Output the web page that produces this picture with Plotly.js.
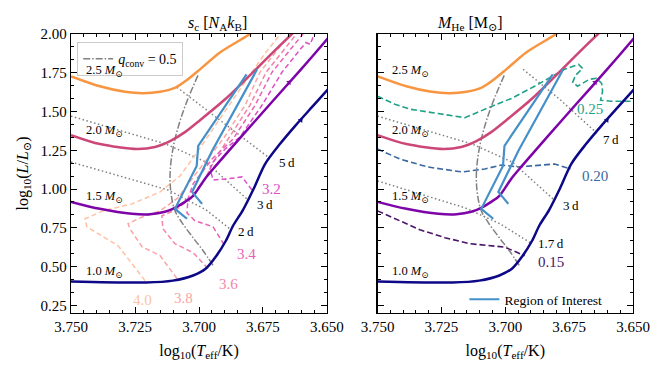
<!DOCTYPE html>
<html>
<head>
<meta charset="utf-8">
<script src="https://cdn.plot.ly/plotly-3.0.1.min.js"></script>
<style>
  body { margin: 0; background: #fff; }
  #hrd { width: 664px; height: 370px; }
</style>
</head>
<body>
<div id="hrd"></div>
<script>
// evolutionary tracks, log10 Teff vs log10 L
var m25_teff = [3.750, 3.7387, 3.7289, 3.7219, 3.7152, 3.7090, 3.7043, 3.6996, 3.6918, 3.6801, 3.6754];
var m25_lum  = [1.727, 1.663, 1.627, 1.618, 1.627, 1.656, 1.708, 1.772, 1.881, 2.000, 2.061];
var m20_teff = [3.750, 3.7387, 3.7242, 3.7172, 3.7113, 3.7055, 3.6996, 3.6898, 3.6813, 3.6723, 3.6637, 3.6598];
var m20_lum  = [1.348, 1.290, 1.258, 1.271, 1.309, 1.367, 1.444, 1.579, 1.714, 1.862, 2.000, 2.061];
var m15_teff = [3.750, 3.7387, 3.7262, 3.7191, 3.7133, 3.7094, 3.7055, 3.7023, 3.6977, 3.6945, 3.6840, 3.6723, 3.6605, 3.6500, 3.6469];
var m15_lum  = [0.917, 0.872, 0.840, 0.837, 0.853, 0.879, 0.917, 0.956, 1.065, 1.129, 1.328, 1.547, 1.765, 1.965, 2.022];
var m10_teff = [3.750, 3.7207, 3.7102, 3.7023, 3.6973, 3.6934, 3.6895, 3.6867, 3.6828, 3.6785, 3.6742, 3.6684, 3.6625, 3.6559, 3.6496, 3.6449];
var m10_lum  = [0.403, 0.397, 0.409, 0.442, 0.487, 0.564, 0.666, 0.763, 0.866, 1.007, 1.161, 1.290, 1.406, 1.528, 1.643, 1.727];
var track_names = ['2.5', '2.0', '1.5', '1.0'];
var track_label_lum = [1.761, 1.375, 0.947, 0.465];
var track_label_teff = 3.7371;

// direction arrows on the 1.5 and 1.0 tracks
var arrow_teff = [3.6648, 3.6602];
var arrow_lum  = [1.688, 1.444];

// q_conv = 0.5
var qconv_teff = [3.7004, 3.7047, 3.7078, 3.7102, 3.7113, 3.7109, 3.7094, 3.7066, 3.7020, 3.6984, 3.6945];
var qconv_lum  = [1.733, 1.566, 1.418, 1.258, 1.097, 0.969, 0.860, 0.782, 0.679, 0.602, 0.506];

// region of interest (two edges)
var roi_teff = [3.7047, 3.7094, 3.7009, 3.7003, 3.6814, null, 3.6773, 3.6949, 3.7027, 3.6988];
var roi_lum  = [0.808, 0.872, 1.148, 1.279, 1.740, null, 1.772, 1.245, 0.981, 0.904];

// orbital period lines
var p5_teff  = [3.7086, 3.6906, 3.6730];
var p5_lum   = [1.656, 1.431, 1.206];
var p3_teff  = [3.750, 3.7129, 3.6973, 3.6813];
var p3_lum   = [1.470, 1.290, 1.174, 0.936];
var p2_teff  = [3.750, 3.7121, 3.6973, 3.6875];
var p2_lum   = [1.174, 0.994, 0.866, 0.737];
var p7_teff  = [3.6930, 3.6787, 3.6637];
var p7_lum   = [1.772, 1.579, 1.354];
var p17_teff = [3.750, 3.7158, 3.7021, 3.6896];
var p17_lum  = [1.052, 0.879, 0.776, 0.647];

// central entropy contours (left panel)
var sc40_teff = [3.7211, 3.7316, 3.7438, 3.7445, 3.7375, 3.7262, 3.7152, 3.7074, 3.7012, 3.6941, 3.6840, 3.6742, 3.6680, 3.6652];
var sc40_lum  = [0.409, 0.634, 0.756, 0.808, 0.859, 0.904, 0.981, 1.084, 1.226, 1.399, 1.643, 1.875, 2.000, 2.061];
var sc38_teff = [3.7086, 3.7152, 3.7223, 3.7270, 3.7277, 3.7230, 3.7152, 3.7082, 3.7016, 3.6957, 3.6906, 3.6820, 3.6762, 3.6645, 3.6617];
var sc38_lum  = [0.422, 0.570, 0.628, 0.744, 0.776, 0.814, 0.859, 0.943, 1.091, 1.213, 1.322, 1.540, 1.753, 2.000, 2.061];
var sc36_teff = [3.6965, 3.7023, 3.7094, 3.7141, 3.7145, 3.7090, 3.7035, 3.6977, 3.6937, 3.6887, 3.6801, 3.6738, 3.6617, 3.6590];
var sc36_lum  = [0.487, 0.589, 0.647, 0.744, 0.827, 0.866, 0.936, 1.065, 1.193, 1.322, 1.540, 1.753, 2.000, 2.061];
var sc34_teff = [3.6902, 3.6945, 3.7016, 3.7047, 3.7043, 3.7023, 3.6949, 3.6867, 3.6781, 3.6715, 3.6594, 3.6566];
var sc34_lum  = [0.641, 0.756, 0.795, 0.846, 0.936, 1.033, 1.193, 1.322, 1.540, 1.753, 2.000, 2.061];
var sc32_teff = [3.6793, 3.6832, 3.6891, 3.6945, 3.6957, 3.6945, 3.6898, 3.6840, 3.6754, 3.6676, 3.6605, 3.6582, 3.6566, 3.6551, 3.6539];
var sc32_lum  = [0.994, 1.078, 1.065, 1.058, 1.129, 1.174, 1.258, 1.335, 1.540, 1.753, 1.900, 1.945, 1.933, 1.997, 2.040];
var sc_labels = ['4.0', '3.8', '3.6', '3.4', '3.2'];
var sc_label_teff = [3.7219, 3.7059, 3.6883, 3.6813, 3.6715];
var sc_label_lum  = [0.284, 0.298, 0.390, 0.583, 1.000];

// helium core mass contours (right panel)
var he25_teff = [3.750, 3.7432, 3.7373, 3.7256, 3.7158, 3.7061, 3.6975, 3.6885, 3.6818, 3.6768, 3.6713, 3.6697, 3.6725, 3.6736, 3.6717, 3.6670, 3.6643, 3.6623, 3.6619, 3.6627, 3.6584, 3.6502, 3.6475];
var he25_lum  = [1.598, 1.547, 1.515, 1.483, 1.460, 1.528, 1.585, 1.663, 1.727, 1.772, 1.804, 1.778, 1.733, 1.688, 1.663, 1.708, 1.714, 1.682, 1.630, 1.573, 1.566, 1.566, 1.566];
var he20_teff = [3.750, 3.7412, 3.7303, 3.7170, 3.7080, 3.7014, 3.6951, 3.6865, 3.6807, 3.6744];
var he20_lum  = [1.258, 1.193, 1.142, 1.110, 1.129, 1.155, 1.142, 1.155, 1.161, 1.129];
var he15_teff = [3.750, 3.7412, 3.7334, 3.7236, 3.7139, 3.7002, 3.6924];
var he15_lum  = [0.859, 0.795, 0.737, 0.686, 0.647, 0.625, 0.570];
var he_labels = ['0.25', '0.20', '0.15'];
var he_label_teff = [3.6670, 3.6650, 3.6820];
var he_label_lum  = [1.515, 1.086, 0.530];

var left_periods = ['5\u2009d', '3\u2009d', '2\u2009d'];
var left_period_teff = [3.6695, 3.6781, 3.6855];
var left_period_lum  = [1.174, 0.898, 0.726];
var right_periods = ['7\u2009d', '3\u2009d', '1.7\u2009d'];
var right_period_teff = [3.6627, 3.6783, 3.6881];
var right_period_lum  = [1.322, 0.893, 0.647];

var plasma = ['#f89540', '#cc4778', '#7e03a8', '#0d0887'];
var sc_colors = ['#fdc2a4', '#fba5a5', '#f583a7', '#ea62b6', '#dc4fc6'];
var he_colors = ['#1fa187', '#3a67a0', '#4a1468'];
var roi_color = '#4590c8';
var grey = '#808080';
var FONT = 'Liberation Serif, DejaVu Serif, serif';

function line(x, y, xa, color, width, dash, extra) {
  var t = {
    x: x, y: y, xaxis: xa, yaxis: xa == 'x' ? 'y' : 'y2',
    mode: 'lines', type: 'scatter', hoverinfo: 'skip', showlegend: false,
    line: {color: color, width: width, dash: dash || 'solid'}
  };
  for (var k in extra) t[k] = extra[k];
  return t;
}

var data = [];
var ann = [];

['x', 'x2'].forEach(function (xa) {
  var ya = xa == 'x' ? 'y' : 'y2';
  if (xa == 'x') {
    data.push(line(p5_teff, p5_lum, xa, grey, 1.5, '1.5px,2.5px'));
    data.push(line(p3_teff, p3_lum, xa, grey, 1.5, '1.5px,2.5px'));
    data.push(line(p2_teff, p2_lum, xa, grey, 1.5, '1.5px,2.5px'));
    var sc = [[sc40_teff, sc40_lum], [sc38_teff, sc38_lum], [sc36_teff, sc36_lum], [sc34_teff, sc34_lum], [sc32_teff, sc32_lum]];
    sc.forEach(function (c, i) { data.push(line(c[0], c[1], xa, sc_colors[i], 1.5, '5px,3px')); });
  } else {
    data.push(line(p7_teff, p7_lum, xa, grey, 1.5, '1.5px,2.5px'));
    data.push(line(p3_teff, p3_lum, xa, grey, 1.5, '1.5px,2.5px'));
    data.push(line(p17_teff, p17_lum, xa, grey, 1.5, '1.5px,2.5px'));
    var he = [[he25_teff, he25_lum], [he20_teff, he20_lum], [he15_teff, he15_lum]];
    he.forEach(function (c, i) { data.push(line(c[0], c[1], xa, he_colors[i], 1.6, '6px,3px')); });
  }

  var q = line(qconv_teff, qconv_lum, xa, grey, 1.5, '7px,2px,1.5px,2px',
    {name: '<i>q</i><sub>conv</sub> = 0.5', showlegend: xa == 'x', legend: 'legend'});
  q.line.shape = 'spline';
  data.push(q);

  // tracks smoothed a bit, they are smooth curves in the original
  var tr = [[m25_teff, m25_lum], [m20_teff, m20_lum], [m15_teff, m15_lum], [m10_teff, m10_lum]];
  tr.forEach(function (c, i) {
    var t = line(c[0], c[1], xa, plasma[i], 2.5);
    t.line.shape = 'spline';
    t.line.smoothing = 0.8;
    data.push(t);
  });

  data.push({
    x: arrow_teff, y: arrow_lum, xaxis: xa, yaxis: ya, type: 'scatter', mode: 'markers',
    hoverinfo: 'skip', showlegend: false,
    marker: {symbol: 'triangle-up', size: 5, angle: 42, color: [plasma[2], plasma[3]]}
  });

  data.push(line(roi_teff, roi_lum, xa, roi_color, 2.2, 'solid',
    {name: 'Region of Interest', showlegend: xa == 'x2', legend: 'legend2'}));

  track_names.forEach(function (n, i) {
    ann.push({x: track_label_teff, y: track_label_lum[i], xref: xa, yref: ya, showarrow: false,
      text: n + ' <i>M</i><sub>⊙</sub>', font: {size: 12.5, color: '#000'}});
  });
});

left_periods.forEach(function (t, i) {
  ann.push({x: left_period_teff[i], y: left_period_lum[i], xref: 'x', yref: 'y', showarrow: false,
    xanchor: 'left', text: t, font: {size: 13, color: '#000'}});
});
right_periods.forEach(function (t, i) {
  ann.push({x: right_period_teff[i], y: right_period_lum[i], xref: 'x2', yref: 'y2', showarrow: false,
    xanchor: 'left', text: t, font: {size: 13, color: '#000'}});
});
sc_labels.forEach(function (t, i) {
  ann.push({x: sc_label_teff[i], y: sc_label_lum[i], xref: 'x', yref: 'y', showarrow: false,
    text: t, font: {size: 15, color: sc_colors[i]}});
});
he_labels.forEach(function (t, i) {
  ann.push({x: he_label_teff[i], y: he_label_lum[i], xref: 'x2', yref: 'y2', showarrow: false,
    text: t, font: {size: 15, color: he_colors[i]}});
});

ann.push({x: 0.2046, y: 1.079, xref: 'paper', yref: 'paper', showarrow: false,
  text: '<i>s</i><sub>c</sub> [<i>N</i><sub>A</sub><i>k</i><sub>B</sub>]', font: {size: 16}});
ann.push({x: 0.773, y: 1.079, xref: 'paper', yref: 'paper', showarrow: false,
  text: '<i>M</i><sub>He</sub> [M<sub>⊙</sub>]', font: {size: 16}});

function xaxis(domain) {
  return {
    domain: domain, range: [3.75, 3.65], tick0: 3.75, dtick: 0.025, tickformat: '.3f',
    ticks: 'inside', ticklen: 6, tickwidth: 1, tickcolor: '#000', mirror: 'allticks',
    showline: true, linecolor: '#000', linewidth: 1.3, showgrid: false, zeroline: false,
    minor: {dtick: 0.005, ticks: 'inside', ticklen: 3, tickcolor: '#000', showgrid: false},
    tickfont: {size: 15},
    title: {text: 'log<sub>10</sub>(<i>T</i><sub>eff</sub>/K)', font: {size: 16}, standoff: 10}
  };
}
function yaxis(anchor, labels) {
  return {
    anchor: anchor, range: [0.2, 2.0], tick0: 0.25, dtick: 0.25, tickformat: '.2f',
    showticklabels: labels,
    ticks: 'inside', ticklen: 6, tickwidth: 1, tickcolor: '#000', mirror: 'allticks',
    showline: true, linecolor: '#000', linewidth: 1.3, showgrid: false, zeroline: false,
    minor: {tick0: 0, dtick: 0.25 / 3, ticks: 'inside', ticklen: 3, tickcolor: '#000', showgrid: false},
    tickfont: {size: 15},
    title: labels ? {text: 'log<sub>10</sub>(<i>L</i>/<i>L</i><sub>⊙</sub>)', font: {size: 16}, standoff: 8} : {text: ''}
  };
}

var layout = {
  width: 664, height: 370,
  margin: {l: 71, r: 31, t: 34, b: 57},
  paper_bgcolor: '#fff', plot_bgcolor: '#fff',
  font: {family: FONT, color: '#000', size: 14},
  xaxis: xaxis([0, 0.4555]),
  xaxis2: xaxis([0.5454, 1]),
  yaxis: yaxis('x', true),
  yaxis2: yaxis('x2', false),
  annotations: ann,
  legend: {x: 0.011, y: 0.971, xanchor: 'left', yanchor: 'top', bgcolor: 'rgba(255,255,255,0.85)',
    bordercolor: '#cccccc', borderwidth: 1, font: {size: 14}},
  legend2: {x: 0.70, y: 0.104, xanchor: 'left', yanchor: 'top', bgcolor: 'rgba(255,255,255,0)',
    borderwidth: 0, font: {size: 13.5}}
};

Plotly.newPlot('hrd', data, layout, {displayModeBar: false, staticPlot: true});
</script>
</body>
</html>
